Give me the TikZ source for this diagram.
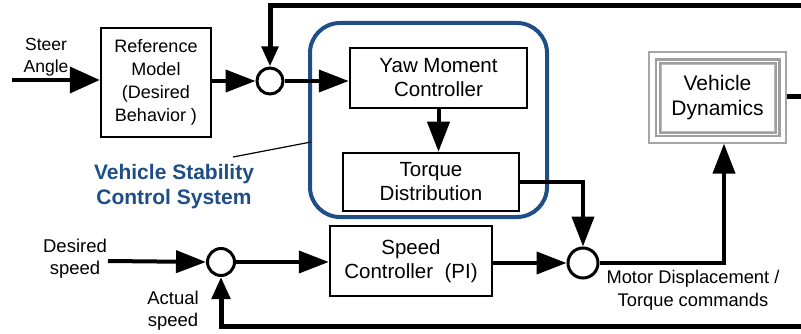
\documentclass[tikz,border=0pt]{standalone}
\usepackage{fontspec}
\setmainfont{Liberation Sans}
\usetikzlibrary{arrows.meta}
\definecolor{vscblue}{RGB}{31,78,135}
\begin{document}
\begin{tikzpicture}[x=1pt,y=-1pt,
  blk/.style={draw,line width=2.5pt,inner sep=0pt,align=center,font=\fontsize{20.5}{24}\selectfont},
  sumc/.style={draw,circle,line width=3pt,inner sep=0pt,fill=white},
  conn/.style={line width=4pt},
  fb/.style={line width=5pt},
  arr/.style={conn,-{Triangle[length=30pt,width=22pt]}},
  lbl/.style={align=center,font=\fontsize{18.5}{22}\selectfont}]
\useasboundingbox (0,0) rectangle (801,334);

% blue system outline
\draw[vscblue,line width=4pt,rounded corners=30pt] (310,23) rectangle (547,217);
\coordinate (vscedge) at (311,142);

% blocks
\node[blk,minimum width=110pt,minimum height=109pt,font=\fontsize{18}{23}\selectfont] (ref) at (156,82.5) {Reference\\Model\\(Desired\\Behavior )};
\node[blk,minimum width=177pt,minimum height=60pt,fill=white] (yaw) at (438.5,78) {Yaw Moment\\Controller};
\node[blk,minimum width=176pt,minimum height=58pt,fill=white] (torque) at (431,182) {Torque\\Distribution};
\node[blk,minimum width=162pt,minimum height=70pt] (speed) at (411,261) {Speed\\Controller~~(PI)};

% vehicle dynamics (framed block)
\node[draw=gray!70,line width=1.2pt,minimum width=137pt,minimum height=91pt,inner sep=0pt,align=center,font=\fontsize{21}{25}\selectfont] (vd) at (717.5,97.5) {Vehicle\\Dynamics};
\draw[gray!75,line width=6pt] (658,61.5) rectangle (777.5,134.5);
\draw[white,line width=1.2pt] (658,61.5) rectangle (777.5,134.5);
\draw[gray!55,line width=1pt] (661,64.5) rectangle (774.5,131.5);

% summing junctions
\node[sumc,minimum size=26pt] (sum1) at (270,81) {};
\node[sumc,minimum size=30pt] (sum2) at (583,263) {};
\node[sumc,minimum size=27pt] (sum3) at (221,262) {};

% free ends
\coordinate (steerin) at (12,80);
\coordinate (topR) at (801,6);
\coordinate (vdout) at (801,97);
\coordinate (dsin) at (108,261);
\coordinate (botR) at (801,326);
\coordinate (ldA) at (233,157);

% connectors
\draw[conn,-{Triangle[length=30pt,width=26pt]}] (steerin) -- (steerin -| ref.west);
\draw[arr] (ref.east |- sum1) -- (sum1.west);
\draw[arr] (sum1.east) -- (sum1 -| yaw.west);
\draw[fb,-{Triangle[length=20pt,width=16pt]}] (topR) -- (topR -| sum1) -- (sum1.north);
\draw[arr] (yaw.south) -- (yaw.south |- torque.north);
\draw[arr] (torque.east) -| (sum2.north);
\draw[arr] (speed.east |- sum2) -- (sum2.west);
\draw[arr] (sum2.east) -| ([xshift=6.5pt]vd.south);
\draw[fb] (vd.east |- vdout) -- (vdout);
\draw[arr] (dsin) -- (sum3.west);
\draw[arr] (sum3.east) -- (sum3 -| speed.west);
\draw[fb,-{Triangle[length=22pt,width=18pt]}] (botR) -- (botR -| sum3) -- (sum3.south);
\draw[line width=1.2pt] (ldA) -- (vscedge);

% labels
\node[align=center,font=\fontsize{17.5}{22}\selectfont] (steerlbl) at (46,57) {Steer\\Angle};
\node[lbl] (deslbl) at (75,259) {Desired\\speed};
\node[lbl] (actlbl) at (173,311) {Actual\\speed};
\node[align=center,font=\fontsize{18.3}{23}\selectfont] (motlbl) at (693,290) {Motor Displacement /\\Torque commands};
\node[align=center,text=vscblue,font=\fontsize{21}{25}\bfseries] (vsclbl) at (174,187) {Vehicle Stability\\Control System};
\end{tikzpicture}
\end{document}
